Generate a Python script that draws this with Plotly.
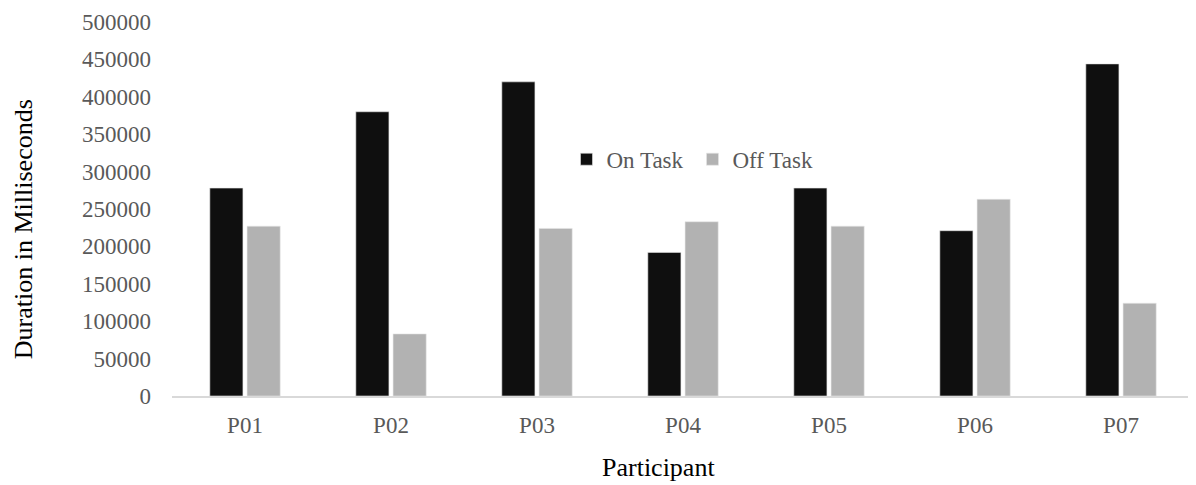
import plotly.graph_objects as go

participants = ["P01", "P02", "P03", "P04", "P05", "P06", "P07"]
on_task = [278000, 380000, 420000, 192000, 278000, 221000, 444000]
off_task = [227000, 83000, 224000, 233000, 227000, 263000, 124000]
y_ticks = [0, 50000, 100000, 150000, 200000, 250000, 300000, 350000, 400000, 450000, 500000]

FONT = "Liberation Serif, Times New Roman, serif"

fig = go.Figure()
fig.add_trace(go.Bar(name="On Task", x=participants, y=on_task,
                     marker=dict(color="#0f0f0f", line=dict(color="#e6e6e6", width=0.6))))
fig.add_trace(go.Bar(name="Off Task", x=participants, y=off_task,
                     marker=dict(color="#b2b2b2", line=dict(color="#e6e6e6", width=0.6))))

fig.update_layout(
    width=1196, height=485,
    margin=dict(l=164, r=10, t=14, b=97),
    paper_bgcolor="white", plot_bgcolor="white",
    barmode="group", bargap=0.49, bargroupgap=0.11,
    font=dict(family=FONT, color="#595959", size=23),
    showlegend=True,
    legend=dict(orientation="h", x=0.386, y=0.633, xanchor="left", yanchor="middle",
                font=dict(family=FONT, size=23, color="#595959"),
                bgcolor="rgba(0,0,0,0)", itemwidth=30, tracegroupgap=0,
                entrywidth=81, entrywidthmode="pixels",
                traceorder="normal"),
    annotations=[
        dict(text="Duration in Milliseconds", textangle=-90, xref="paper", yref="paper",
             x=-0.1458, y=0.446, xanchor="center", yanchor="middle", showarrow=False,
             font=dict(family=FONT, size=26, color="#000000")),
        dict(text="Participant", xref="paper", yref="paper",
             x=0.4765, y=-0.1925, xanchor="center", yanchor="middle", showarrow=False,
             font=dict(family=FONT, size=26, color="#000000")),
    ],
)
fig.update_xaxes(
    automargin=False,
    showline=True, linecolor="#d9d9d9", linewidth=2, showgrid=False, zeroline=False,
    ticks="", ticklabelstandoff=7,
    tickfont=dict(family=FONT, size=23, color="#595959"),
)
fig.update_yaxes(
    automargin=False,
    range=[0, 500000], tickvals=y_ticks, ticktext=[str(v) for v in y_ticks],
    showline=False, showgrid=False, zeroline=False, ticks="",
    ticklabelstandoff=20,
    tickfont=dict(family=FONT, size=23, color="#595959"),
)

fig.write_html("out.html")
